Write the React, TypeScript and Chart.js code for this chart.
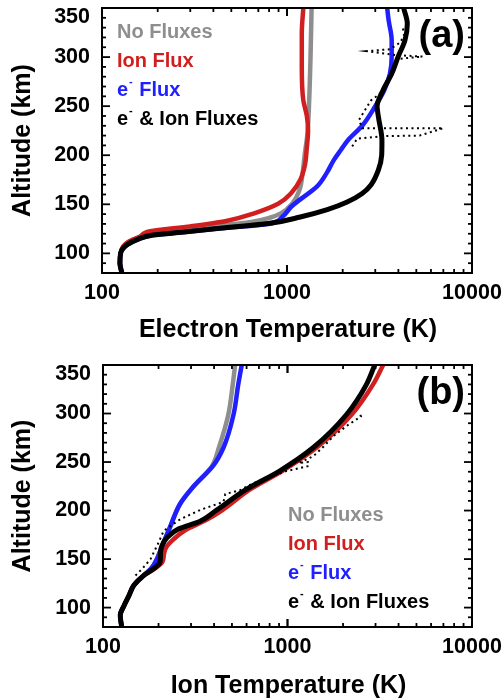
import React, { useEffect, useRef } from 'react';
import { Chart, registerables } from 'chart.js';

Chart.register(...registerables);

const FONT = '"Liberation Sans", Arial, Helvetica, sans-serif';

// ---------- shared labels / ticks ----------
const seriesNames = ['No Fluxes', 'Ion Flux', 'e⁻ Flux', 'e⁻ & Ion Fluxes'];
const seriesColors = ['#8e8e8e', '#d11f1f', '#1f1fff', '#000000'];
const yMajorTicks = [100, 150, 200, 250, 300, 350];
const xMajorTicks = [100, 1000, 10000];
const xTickLabels = ['100', '1000', '10000'];
const yAxisTitle = 'Altitude (km)';
const xTitleA = 'Electron Temperature (K)';
const xTitleB = 'Ion Temperature (K)';

// ---------- panel (a): electron temperature ----------
const altGrayA = [80, 90, 100, 107, 111, 116, 121, 126, 132, 136, 141, 151, 165, 182, 200, 222, 256, 300, 350];
const tempGrayA = [128, 125, 126, 130, 137, 158, 200, 330, 640, 800, 930, 1070, 1170, 1215, 1245, 1290, 1318, 1340, 1358];

const altRedA = [80, 90, 100, 107, 111.5, 117, 122.5, 127.5, 133, 141, 150.5, 162, 175, 190, 208, 225, 240, 256, 290, 324, 350];
const tempRedA = [128, 125, 126, 130, 138, 160, 182, 300, 470, 670, 895, 1060, 1180, 1250, 1280, 1300, 1280, 1225, 1202, 1202, 1225];

const altBlueA = [80, 90, 100, 108.5, 114, 118.7, 122, 125.5, 130, 137, 148, 155, 168, 182, 195, 205, 216, 230, 250, 266, 283, 300, 317, 338, 350];
const tempBlueA = [128, 125, 126, 136, 155, 189, 287, 434, 790, 940, 1060, 1180, 1450, 1640, 1790, 1950, 2150, 2550, 3000, 3350, 3600, 3680, 3680, 3540, 3480];

const altBlackA = [80, 90, 100, 108.5, 114, 118.7, 122, 125.5, 130.6, 137, 144.5, 152, 161, 170, 185, 200, 215, 239, 250, 266, 283, 300, 317, 334, 350];
const tempBlackA = [128, 125, 126, 136, 155, 189, 287, 434, 809, 1180, 1650, 2100, 2550, 2850, 3120, 3250, 3260, 3120, 3070, 3300, 3680, 3980, 4340, 4470, 4270];

const obsAltA = [209, 217, 219.5, 220, 227.5, 227.5, 227.5, 236, 244, 256, 262, 268, 278, 290, 298, 300.5, 302, 306, 308, 315, 323, 332];
const obsTempA = [2250, 2400, 3400, 5200, 7000, 4200, 2550, 2450, 2600, 2850, 3150, 3350, 3600, 3850, 3900, 5400, 3900, 2700, 3600, 4100, 4300, 4200];

// ---------- panel (b): ion temperature ----------
const altGrayB = [81, 92, 102, 112, 123, 133, 140, 150, 158, 167, 184, 207, 225, 246, 265, 299, 330, 350];
const tempGrayB = [126, 124, 130, 138, 147, 166, 182, 196, 204, 213, 232, 262, 310, 390, 425, 478, 505, 520];

const altRedB = [81, 92, 102, 112, 123, 133, 140, 147, 155, 162, 170, 180, 190, 200, 222, 241, 265, 299, 330, 350];
const tempRedB = [126, 124, 130, 138, 147, 166, 190, 210, 214, 220, 240, 280, 360, 440, 630, 940, 1440, 2230, 2910, 3300];

const altBlueB = [81, 92, 102, 112, 123, 133, 140, 150, 158, 167, 184, 207, 225, 246, 265, 299, 330, 350];
const tempBlueB = [126, 124, 130, 138, 147, 166, 182, 196, 204, 213, 232, 262, 310, 395, 450, 510, 541, 565];

const altBlackB = [81, 92, 102, 112, 123, 133, 140, 147, 157, 164, 172, 181, 189, 200, 222, 241, 265, 299, 330, 350];
const tempBlackB = [126, 124, 130, 138, 147, 166, 188, 204, 205, 209, 222, 256, 336, 410, 601, 910, 1381, 2090, 2680, 2970];

const obsAltB = [133, 141, 150, 167, 179, 191, 201, 209, 217, 221, 228, 235, 240.7, 245.8, 250, 249, 256, 266, 276.6, 287, 297, 301];
const obsTempB = [150, 165, 181, 200, 213, 262, 340, 450, 460, 553, 650, 800, 985, 1300, 1290, 1150, 1380, 1570, 1770, 2085, 2500, 2450];

const Y_MIN = 80;
const Y_MAX = 350;
const X_MIN = 100;
const X_MAX = 10000;

function zip(temps: number[], alts: number[]) {
  return temps.map((t, i) => ({ x: t, y: alts[i] }));
}

type PanelSpec = {
  canvasTop: number;
  canvasHeight: number;
  padTop: number;
  yAxisWidth: number;
  xAxisHeight: number;
  xTitle: string;
  xTitleOffset: number;
  label: string;
  legendX: number;
  legendY: number; // offset from chart top
  series: { temps: number[]; alts: number[] }[]; // gray, red, blue, black
  obs: { temps: number[]; alts: number[] };
};

function drawLegendText(ctx: CanvasRenderingContext2D, text: string, x: number, y: number, color: string) {
  const main = `bold 20px ${FONT}`;
  const sup = `bold 11px ${FONT}`;
  ctx.fillStyle = color;
  ctx.textAlign = 'left';
  ctx.textBaseline = 'middle';
  const parts = text.split('⁻');
  if (parts.length === 2) {
    ctx.font = main;
    ctx.fillText(parts[0], x, y);
    let cx = x + ctx.measureText(parts[0]).width + 1;
    ctx.font = sup;
    ctx.fillText('-', cx, y - 8);
    cx += ctx.measureText('-').width + 1;
    ctx.font = main;
    ctx.fillText(parts[1], cx, y);
  } else {
    ctx.font = main;
    ctx.fillText(text, x, y);
  }
}

function makeDecor(spec: PanelSpec) {
  return {
    id: 'decor',
    afterDatasetsDraw(chart: any) {
      const ctx: CanvasRenderingContext2D = chart.ctx;
      const a = chart.chartArea;
      const xs = chart.scales.x;
      const ys = chart.scales.y;
      ctx.save();
      ctx.strokeStyle = '#000';
      ctx.lineWidth = 2;
      ctx.strokeRect(a.left, a.top, a.right - a.left, a.bottom - a.top);

      const seg = (x1: number, y1: number, x2: number, y2: number) => {
        ctx.beginPath();
        ctx.moveTo(x1, y1);
        ctx.lineTo(x2, y2);
        ctx.stroke();
      };
      ctx.lineWidth = 1.8;
      // y ticks (major every 50, minor every 10) on both sides, pointing inward
      for (let v = Y_MIN; v <= Y_MAX; v += 10) {
        const py = ys.getPixelForValue(v);
        const len = yMajorTicks.includes(v) ? 8 : 4;
        seg(a.left, py, a.left + len, py);
        seg(a.right, py, a.right - len, py);
      }
      // x ticks (log decades + minors)
      for (let d = X_MIN; d < X_MAX; d *= 10) {
        for (let k = 1; k <= 10; k++) {
          const v = d * k;
          if (v > X_MAX) continue;
          const px = xs.getPixelForValue(v);
          const len = xMajorTicks.includes(v) ? 8 : 4;
          seg(px, a.bottom, px, a.bottom - len);
          seg(px, a.top, px, a.top + len);
        }
      }

      // tick labels
      ctx.fillStyle = '#000';
      ctx.font = `bold 21.5px ${FONT}`;
      ctx.textAlign = 'right';
      ctx.textBaseline = 'middle';
      yMajorTicks.forEach((v) => {
        const py = Math.max(ys.getPixelForValue(v), a.top + 9.5);
        ctx.fillText(String(v), a.left - 12, py);
      });
      ctx.textAlign = 'center';
      xMajorTicks.forEach((v, i) => {
        ctx.fillText(xTickLabels[i], xs.getPixelForValue(v), a.bottom + 20);
      });

      // axis titles
      ctx.font = `bold 25px ${FONT}`;
      ctx.fillText(spec.xTitle, (a.left + a.right) / 2 + 1, a.bottom + spec.xTitleOffset);
      ctx.save();
      ctx.translate(23, (a.top + a.bottom) / 2);
      ctx.rotate(-Math.PI / 2);
      ctx.fillText(yAxisTitle, 0, 0);
      ctx.restore();

      // panel label
      ctx.font = `bold 38px ${FONT}`;
      ctx.textAlign = 'right';
      ctx.fillText(spec.label, a.right - 7, a.top + 29);

      // legend
      seriesNames.forEach((name, i) => {
        drawLegendText(ctx, name, spec.legendX, a.top + spec.legendY + i * 29, seriesColors[i]);
      });
      ctx.restore();
    },
  };
}

function Panel({ spec }: { spec: PanelSpec }) {
  const ref = useRef<HTMLCanvasElement | null>(null);
  useEffect(() => {
    if (!ref.current) return;
    const [gray, red, blue, black] = spec.series;
    const lineDs = (s: { temps: number[]; alts: number[] }, color: string, w: number) => ({
      data: zip(s.temps, s.alts),
      borderColor: color,
      backgroundColor: color,
      borderWidth: w,
      pointRadius: 0,
      fill: false,
      cubicInterpolationMode: 'monotone' as const,
      borderCapStyle: 'round' as const,
      borderJoinStyle: 'round' as const,
    });
    const datasets: any[] = [
      {
        data: zip(spec.obs.temps, spec.obs.alts),
        borderColor: '#000',
        borderWidth: 2,
        borderDash: [2, 3.5],
        pointRadius: 0,
        fill: false,
        tension: 0,
      },
      lineDs(black, seriesColors[3], 5),
      lineDs(blue, seriesColors[2], 4.5),
      lineDs(red, seriesColors[1], 4.5),
      lineDs(gray, seriesColors[0], 4.5),
    ];
    const chart = new Chart(ref.current, {
      type: 'line',
      data: { datasets },
      options: {
        animation: false,
        responsive: false,
        indexAxis: 'y',
        events: [],
        layout: { padding: { top: spec.padTop, right: 30, left: 0, bottom: 0 } },
        plugins: { legend: { display: false }, tooltip: { enabled: false } },
        scales: {
          x: {
            type: 'logarithmic',
            position: 'bottom',
            min: X_MIN,
            max: X_MAX,
            grid: { display: false },
            border: { display: false },
            ticks: { display: false },
            afterFit: (s: any) => {
              s.height = spec.xAxisHeight;
            },
          },
          y: {
            type: 'linear',
            position: 'left',
            min: Y_MIN,
            max: Y_MAX,
            grid: { display: false },
            border: { display: false },
            ticks: { display: false },
            afterFit: (s: any) => {
              s.width = spec.yAxisWidth;
            },
          },
        },
      } as any,
      plugins: [makeDecor(spec)],
    });
    return () => chart.destroy();
  }, [spec]);
  return (
    <canvas
      ref={ref}
      width={502}
      height={spec.canvasHeight}
      style={{ position: 'absolute', left: 0, top: spec.canvasTop, width: 502, height: spec.canvasHeight }}
    />
  );
}

const specA: PanelSpec = {
  canvasTop: 0,
  canvasHeight: 345,
  padTop: 8,
  yAxisWidth: 102,
  xAxisHeight: 72,
  xTitle: xTitleA,
  xTitleOffset: 57,
  label: '(a)',
  legendX: 117,
  legendY: 24,
  series: [
    { temps: tempGrayA, alts: altGrayA },
    { temps: tempRedA, alts: altRedA },
    { temps: tempBlueA, alts: altBlueA },
    { temps: tempBlackA, alts: altBlackA },
  ],
  obs: { temps: obsTempA, alts: obsAltA },
};

const specB: PanelSpec = {
  canvasTop: 345,
  canvasHeight: 354,
  padTop: 20,
  yAxisWidth: 103,
  xAxisHeight: 72,
  xTitle: xTitleB,
  xTitleOffset: 59,
  label: '(b)',
  legendX: 288,
  legendY: 150,
  series: [
    { temps: tempGrayB, alts: altGrayB },
    { temps: tempRedB, alts: altRedB },
    { temps: tempBlueB, alts: altBlueB },
    { temps: tempBlackB, alts: altBlackB },
  ],
  obs: { temps: obsTempB, alts: obsAltB },
};

export default function App() {
  return (
    <div style={{ position: 'absolute', left: 0, top: 0, width: 502, height: 699, background: '#fff' }}>
      <Panel spec={specA} />
      <Panel spec={specB} />
    </div>
  );
}
